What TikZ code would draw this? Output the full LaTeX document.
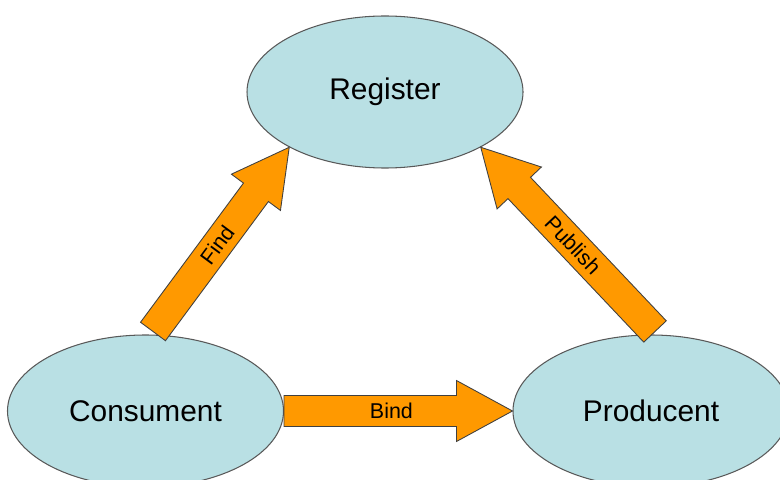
\documentclass[tikz,border=0pt]{standalone}
\usepackage{fontspec}
\setmainfont{Liberation Sans}
\usepackage{tikz}
\usetikzlibrary{calc,shapes.geometric}

\definecolor{bubble}{RGB}{185,224,228}
\definecolor{arroworange}{RGB}{255,153,0}

% block arrow from tail #1 to tip #2 with label #3
\newcommand{\blockarrow}[3]{%
  \coordinate (#1-n) at ($(#2)!1.12cm!(#1)$);
  \draw [blockarrow] ($(#1)!0.31cm!-90:(#2)$) -- ($(#1-n)!0.31cm!-90:(#2)$)
    -- ($(#1-n)!0.61cm!-90:(#2)$) -- (#2) -- ($(#1-n)!0.61cm!90:(#2)$)
    -- ($(#1-n)!0.31cm!90:(#2)$) -- ($(#1)!0.31cm!90:(#2)$) -- cycle;
  \path (#1) -- node [pos=0.47, sloped, arrowlabel] {#3} (#2);
}

\begin{document}
\begin{tikzpicture}[
  bubblenode/.style={ellipse, draw=black!65, fill=bubble, line width=0.6pt,
    minimum width=5.52cm, minimum height=3.04cm, inner sep=0pt,
    font=\fontsize{17}{20}\selectfont},
  blockarrow/.style={fill=arroworange, draw=black!75, line width=0.5pt, line join=miter},
  arrowlabel/.style={font=\fontsize{12.2}{14}\selectfont, inner sep=0pt}]
\useasboundingbox (0,0) rectangle (15.6,9.58);

\node [bubblenode] (reg) at (7.70,7.74) {Register};
\node [bubblenode] (cons) at (2.91,1.36) {Consument};
\node [bubblenode] (prod) at (13.02,1.36) {Producent};

\coordinate (find-s) at ($(cons.north)+(0.15,0.06)$);
\coordinate (find-e) at (reg.210);
\coordinate (publish-s) at ($(prod.north)+(0.08,0.06)$);
\coordinate (publish-e) at (reg.-30);
\coordinate (bind-s) at (cons.east);
\coordinate (bind-e) at (prod.west);

\blockarrow{find-s}{find-e}{Find}
\blockarrow{publish-s}{publish-e}{Publish}
\blockarrow{bind-s}{bind-e}{Bind}
\end{tikzpicture}
\end{document}
